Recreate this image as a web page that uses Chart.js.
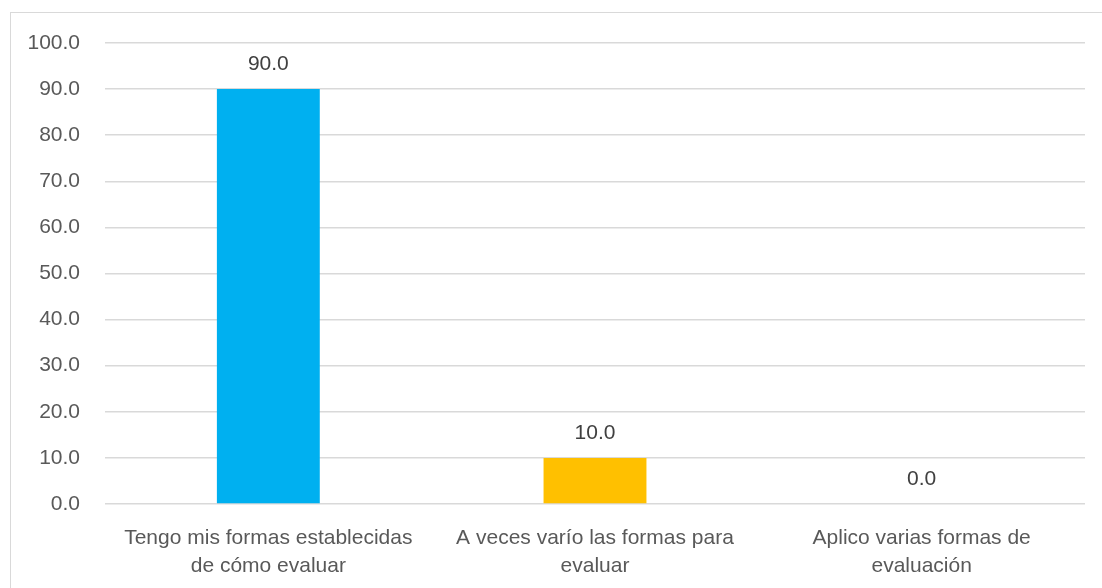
<!DOCTYPE html>
<html>
<head>
<meta charset="utf-8">
<script src="https://cdn.jsdelivr.net/npm/chart.js@4"></script>
<style>
  html, body { margin: 0; padding: 0; background: #fff; }
  #wrap { position: relative; width: 1102px; height: 588px; overflow: hidden; }
  #frame { position: absolute; left: 10px; top: 12px; width: 1110px; height: 600px; border: 1px solid #d9d9d9; box-sizing: border-box; }
  canvas { position: absolute; left: 0; top: 0; }
</style>
</head>
<body>
<div id="wrap">
  <div id="frame"></div>
  <canvas id="c" width="1102" height="588"></canvas>
</div>
<script>
const categories = [
  ["Tengo mis formas establecidas", "de cómo evaluar"],
  ["A veces varío las formas para", "evaluar"],
  ["Aplico varias formas de", "evaluación"]
];
const values = [90.0, 10.0, 0.0];
const barColors = ["#00B0F0", "#FFC000", "#A5A5A5"];
const yTicks = [0, 10, 20, 30, 40, 50, 60, 70, 80, 90, 100];

const FONT = "'Liberation Sans', Arial, sans-serif";
const TEXT = "#595959";

const valueLabels = {
  id: "valueLabels",
  afterDatasetsDraw(chart) {
    const ctx = chart.ctx;
    const meta = chart.getDatasetMeta(0);
    ctx.save();
    ctx.font = "21px " + FONT;
    ctx.fillStyle = "#404040";
    ctx.textAlign = "center";
    ctx.textBaseline = "middle";
    meta.data.forEach((el, i) => {
      ctx.fillText(values[i].toFixed(1), el.x, el.y - 25);
    });
    ctx.restore();
  }
};

new Chart(document.getElementById("c"), {
  type: "bar",
  data: {
    labels: categories,
    datasets: [{
      data: values,
      backgroundColor: barColors,
      borderWidth: 0,
      categoryPercentage: 1.0,
      barPercentage: 0.315
    }]
  },
  options: {
    responsive: false,
    animation: false,
    events: [],
    layout: { padding: { left: 0, right: 17, top: 43, bottom: 0 } },
    plugins: { legend: { display: false }, tooltip: { enabled: false } },
    scales: {
      x: {
        grid: { display: false, drawTicks: false },
        border: { display: false },
        ticks: { color: TEXT, font: { family: FONT, size: 21, lineHeight: 1.33 }, padding: 20, maxRotation: 0, autoSkip: false },
        afterFit(scale) { scale.height = 84; }
      },
      y: {
        min: 0,
        max: 100,
        afterBuildTicks(scale) { scale.ticks = yTicks.map(v => ({ value: v })); },
        grid: { color: "#d9d9d9", lineWidth: 1.5, drawTicks: false },
        border: { display: false },
        ticks: { color: TEXT, font: { family: FONT, size: 21 }, padding: 25, callback: v => Number(v).toFixed(1) },
        afterFit(scale) { scale.width = 105; }
      }
    }
  },
  plugins: [valueLabels]
});
</script>
</body>
</html>
